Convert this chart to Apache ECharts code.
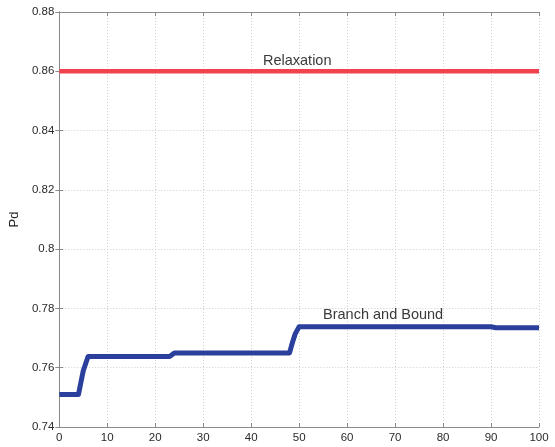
<!DOCTYPE html>
<html>
<head>
<meta charset="utf-8">
<script src="https://cdn.jsdelivr.net/npm/echarts@6/dist/echarts.min.js"></script>
<style>
  html, body { margin: 0; padding: 0; background: #fff; }
  #chart { width: 555px; height: 447px; }
</style>
</head>
<body>
<div id="chart"></div>
<script>
// Detection probability per iteration for the two methods
const relaxationX = [0, 100];
const relaxationPd = [0.86, 0.86];

const branchX  = [0, 4, 4.5, 5, 6, 23, 24, 48, 48.6, 49.2, 50, 90, 91, 100];
const branchPd = [0.751, 0.751, 0.755, 0.759, 0.7638, 0.7638, 0.765, 0.765, 0.7685, 0.7715, 0.7738, 0.7738, 0.7735, 0.7735];

const xTicks = [0, 10, 20, 30, 40, 50, 60, 70, 80, 90, 100];
const yTicks = [0.74, 0.76, 0.78, 0.8, 0.82, 0.84, 0.86, 0.88];

const labelRelaxation = { text: 'Relaxation', x: 49.6, y: 0.8636 };
const labelBranch = { text: 'Branch and Bound', x: 67.5, y: 0.7779 };

const pair = (xs, ys) => xs.map((x, i) => [x, ys[i]]);

const chart = echarts.init(document.getElementById('chart'));
const font = 'Liberation Sans, Arial, sans-serif';
const axisColor = '#8a8a8a';
const gridLine = { show: true, lineStyle: { color: '#cfcfcf', type: [1, 2], width: 1 } };

function textMark(lbl) {
  return {
    symbol: 'circle', symbolSize: 0,
    data: [{ coord: [lbl.x, lbl.y], value: lbl.text }],
    label: { show: true, position: 'inside', formatter: '{c}', color: '#3a3a3a', fontSize: 14.5, fontFamily: font }
  };
}

chart.setOption({
  animation: false,
  backgroundColor: '#fff',
  grid: { left: 59, right: 16, top: 12, bottom: 20 },
  xAxis: [
    {
      type: 'value', min: xTicks[0], max: xTicks[xTicks.length - 1], interval: 10,
      axisLine: { show: true, onZero: false, lineStyle: { color: axisColor } },
      axisTick: { show: true, inside: true, length: 4, lineStyle: { color: axisColor } },
      axisLabel: { color: '#2a2a2a', fontSize: 11.5, fontFamily: font, margin: 5 },
      splitLine: gridLine
    },
    {
      type: 'value', position: 'top', min: 0, max: 100, interval: 10,
      axisLine: { show: true, lineStyle: { color: axisColor } },
      axisTick: { show: true, inside: true, length: 4, lineStyle: { color: axisColor } },
      axisLabel: { show: false }, splitLine: { show: false }
    }
  ],
  yAxis: [
    {
      type: 'value', min: yTicks[0], max: yTicks[yTicks.length - 1], interval: 0.02,
      name: 'Pd', nameLocation: 'middle', nameGap: 34,
      nameTextStyle: { color: '#222', fontSize: 13, fontFamily: font },
      axisLine: { show: true, onZero: false, lineStyle: { color: axisColor } },
      axisTick: { show: true, inside: true, length: 4, lineStyle: { color: axisColor } },
      axisLabel: {
        color: '#2a2a2a', fontSize: 11.5, fontFamily: font, margin: 5,
        formatter: v => String(parseFloat(v.toFixed(2)))
      },
      splitLine: gridLine
    },
    {
      type: 'value', position: 'right', min: 0.74, max: 0.88, interval: 0.02,
      axisLine: { show: true, lineStyle: { color: axisColor } },
      axisTick: { show: true, inside: true, length: 4, lineStyle: { color: axisColor } },
      axisLabel: { show: false }, splitLine: { show: false }
    }
  ],
  series: [
    {
      name: 'Relaxation', type: 'line', symbol: 'none',
      data: pair(relaxationX, relaxationPd),
      lineStyle: { color: '#f2424f', width: 4.5 },
      markPoint: textMark(labelRelaxation)
    },
    {
      name: 'Branch and Bound', type: 'line', symbol: 'none',
      data: pair(branchX, branchPd),
      lineStyle: { color: '#2b3f9c', width: 5, join: 'round' },
      markPoint: textMark(labelBranch)
    }
  ]
});
</script>
</body>
</html>
